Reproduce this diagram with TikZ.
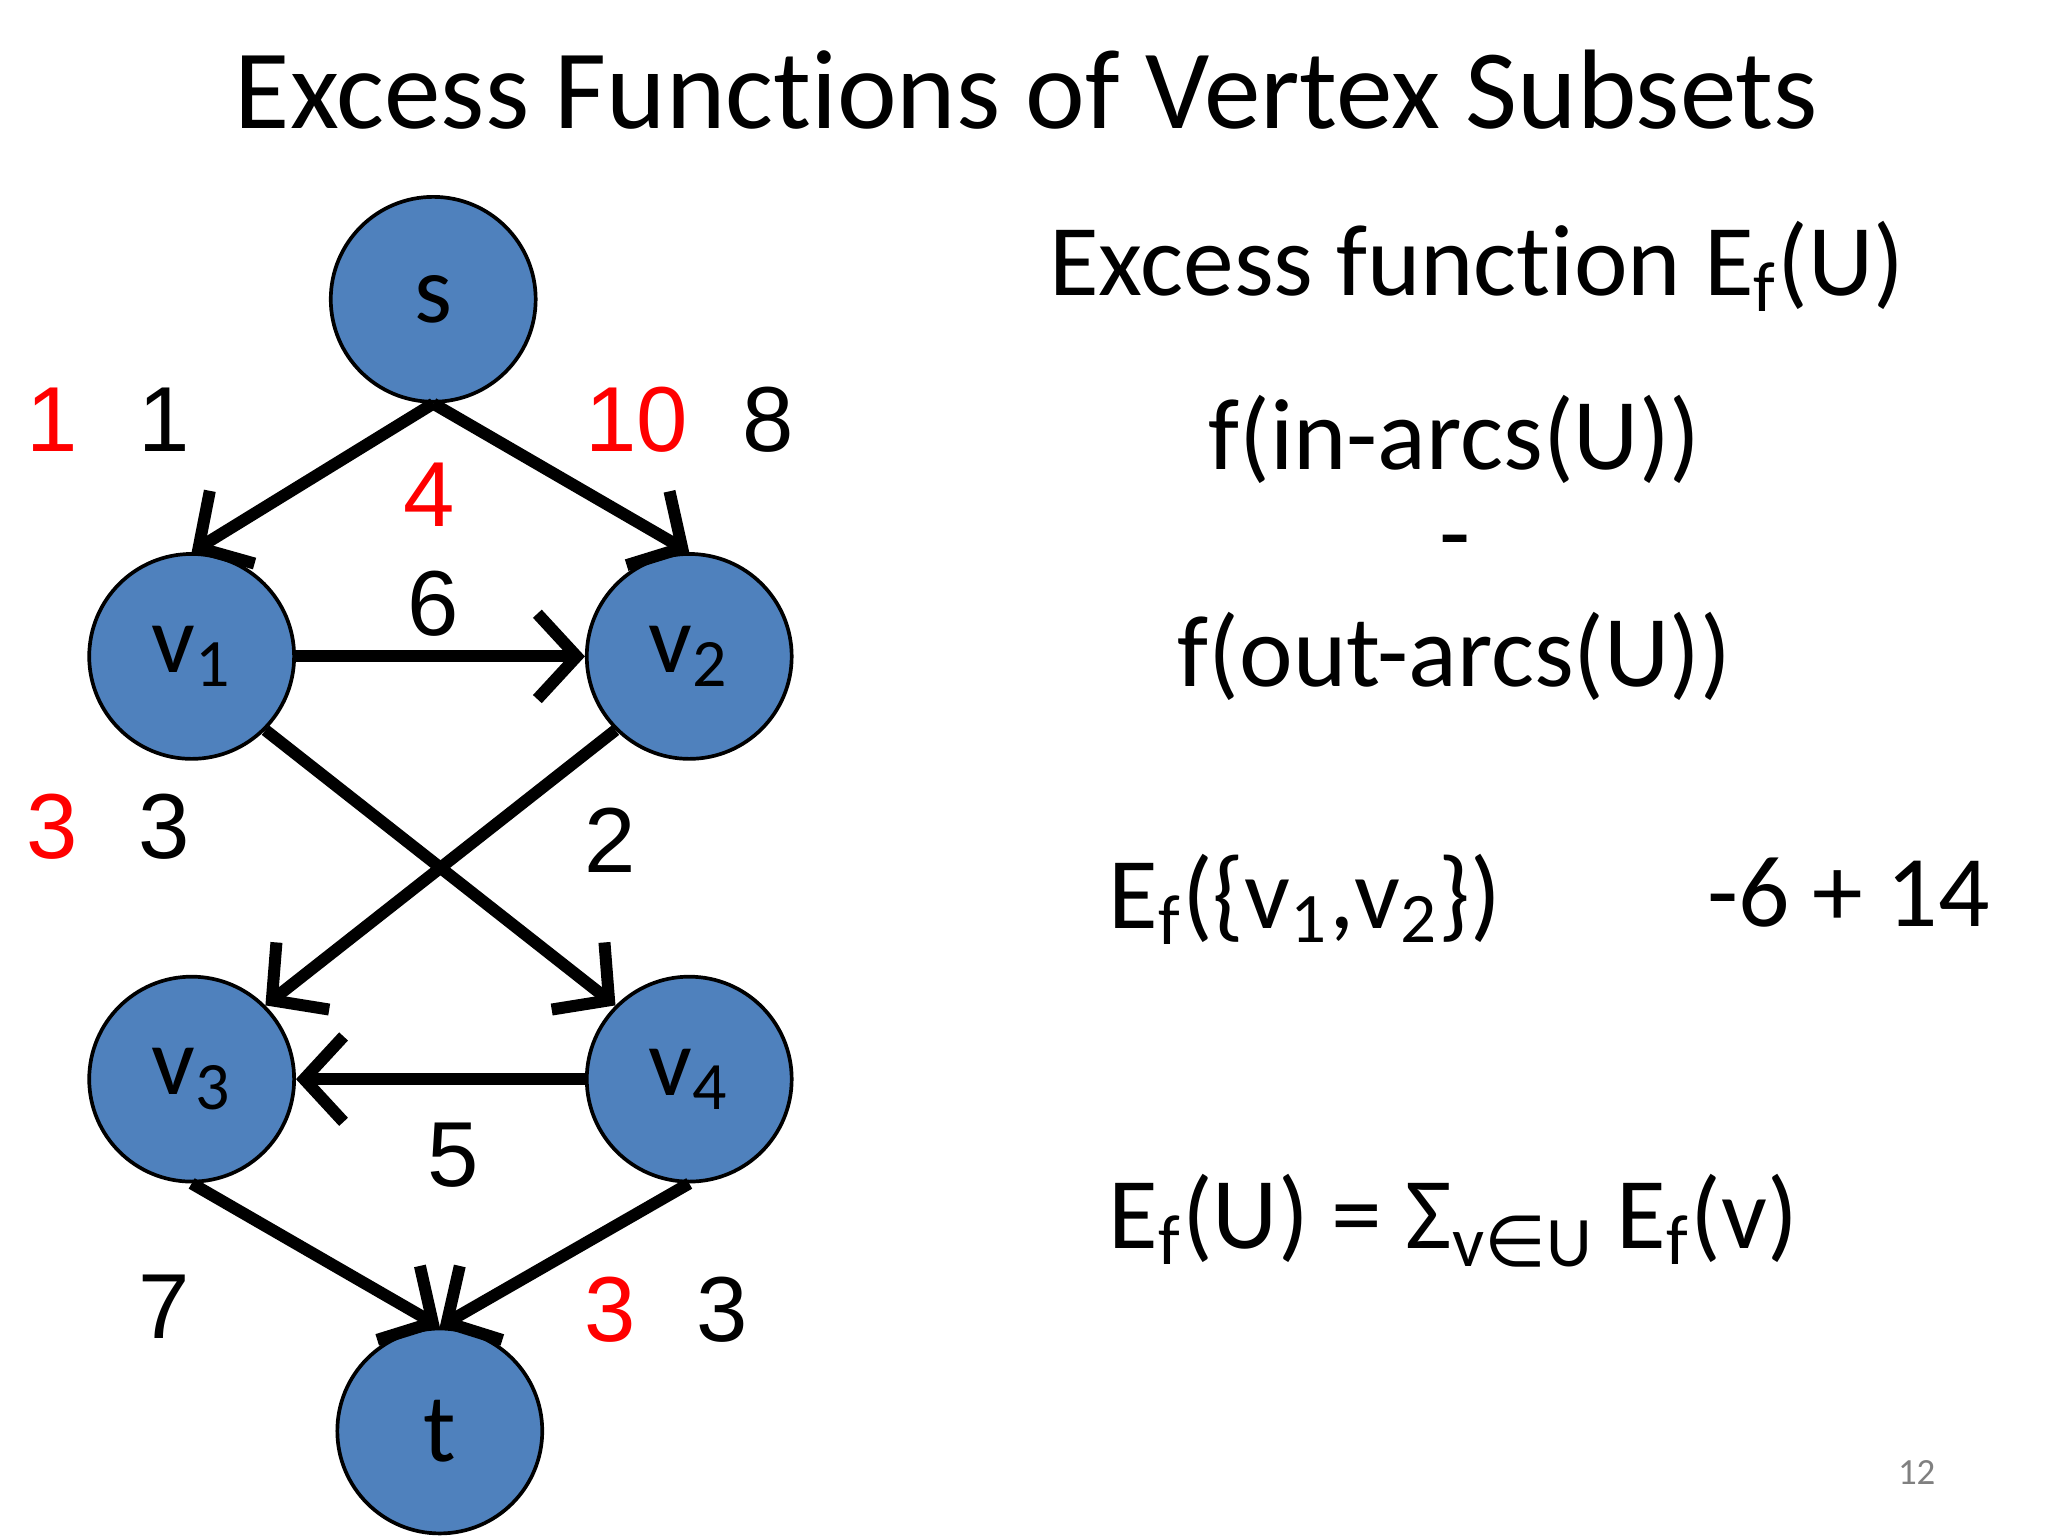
\documentclass[tikz,border=0pt]{standalone}
\usepackage{fontspec}
\setmainfont[Ligatures=NoCommon]{Carlito}
\newfontfamily\numfont{Liberation Sans}
\newfontfamily\symfont{DejaVu Sans}
\usetikzlibrary{arrows.meta}
\definecolor{nodeblue}{HTML}{4F81BD}
\tikzset{
  vert/.style={circle,draw=black,line width=0.8pt,fill=nodeblue,minimum size=1.56cm,inner sep=0pt,font=\fontsize{21}{25}\selectfont},
  arc/.style={line width=2.6pt,-{Straight Barb[length=3mm,width=6.5mm,line width=2.6pt]}},
  num/.style={font=\numfont\fontsize{20}{24}\selectfont},
  rnum/.style={num,text=red},
  rtext/.style={font=\fontsize{22}{26}\selectfont}
}
\begin{document}
\begin{tikzpicture}[x=0.01cm,y=-0.01cm]
\useasboundingbox (0,0) rectangle (1560,1170);
\node[font=\fontsize{24.5}{28}\selectfont] (title) at (782,68) {Excess Functions of Vertex Subsets};
\node[vert] (s) at (330,228) {s};
\node[vert] (v1) at (146,500) {v\textsubscript{1}};
\node[vert] (v2) at (525,500) {v\textsubscript{2}};
\node[vert] (v3) at (146,822) {v\textsubscript{3}};
\node[vert] (v4) at (525,822) {v\textsubscript{4}};
\node[vert] (t) at (335,1090) {t};
\draw[arc] (s.south) -- (v1.north);
\draw[arc] (s.south) -- (v2.north);
\draw[arc] (v1.east) -- (v2.west);
\draw[arc] (v1.-45) -- (v4.135);
\draw[arc] (v2.-135) -- (v3.45);
\draw[arc] (v4.west) -- (v3.east);
\draw[arc] (v3.south) -- (t.north);
\draw[arc] (v4.south) -- (t.north);
\node[rnum] (a1) at (40,320) {1};
\node[num] (a2) at (125,320) {1};
\node[rnum] (a3) at (485,320) {10};
\node[num] (a4) at (585,320) {8};
\node[rnum] (a5) at (327,377) {4};
\node[num] (a6) at (330,460) {6};
\node[rnum] (a7) at (40,630) {3};
\node[num] (a8) at (125,630) {3};
\node[num] (a9) at (465,640) {2};
\node[num] (a10) at (345,880) {5};
\node[num] (a11) at (125,995) {7};
\node[rnum] (a12) at (465,998) {3};
\node[num] (a13) at (550,998) {3};
\node[rtext] (r1) at (1125,203) {Excess function E\textsubscript{f}(U)};
\node[rtext] (r2) at (1108,335) {f(in-arcs(U))};
\node[rtext] (r3) at (1108,420) {-};
\node[rtext] (r4) at (1108,500) {f(out-arcs(U))};
\node[rtext,anchor=west] (r5) at (832,685) {E\textsubscript{f}(\{v\textsubscript{1},v\textsubscript{2}\})};
\node[rtext] (r6) at (1408,680) {-6 + 14};
\node[rtext,anchor=west] (r7) at (832,930) {E\textsubscript{f}(U) = Σ\textsubscript{v{\symfont ∈}U} E\textsubscript{f}(v)};
\node[text=gray,font=\fontsize{8}{10}\selectfont] (pg) at (1460,1122) {12};
\end{tikzpicture}
\end{document}
